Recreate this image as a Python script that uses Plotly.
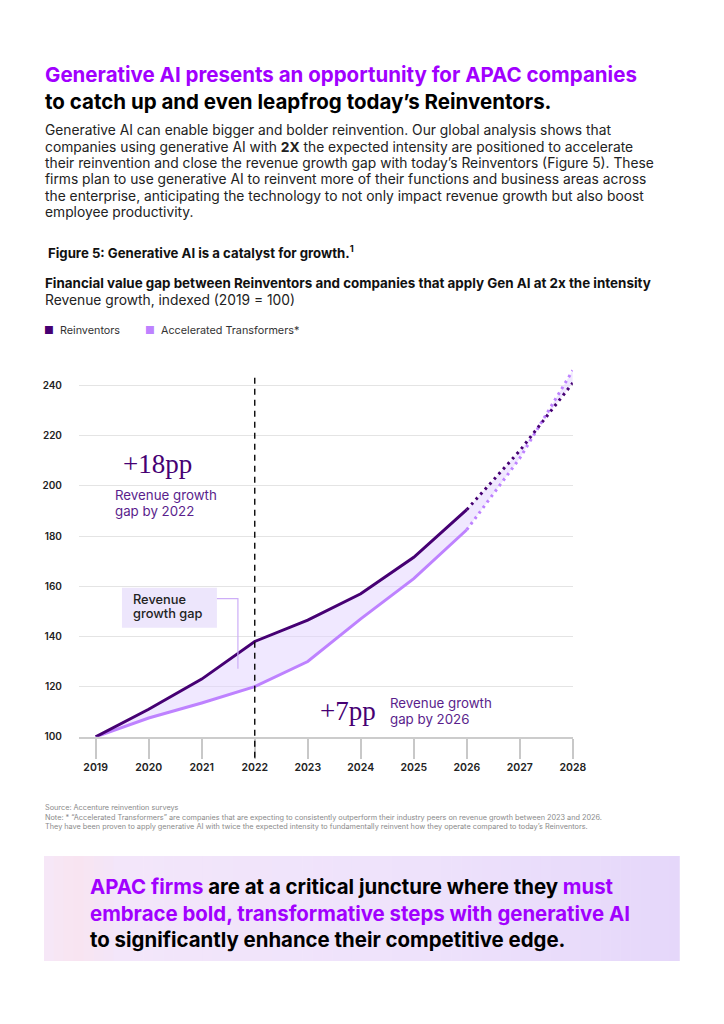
import plotly.graph_objects as go

W, H = 724, 1024

# ---------------- data ----------------
years_actual = [2019, 2020, 2021, 2022, 2023, 2024, 2025, 2026]
reinventors_actual = [100, 111, 123, 138, 146.5, 157, 171.5, 190.5]
transformers_actual = [100, 107.5, 113.5, 120, 130, 147, 163, 182.5]

years_proj = [2026, 2027, 2028]
reinventors_proj = [190.5, 214, 241]
transformers_proj = [182.5, 211, 246]

x_ticks = [2019, 2020, 2021, 2022, 2023, 2024, 2025, 2026, 2027, 2028]
y_ticks = [100, 120, 140, 160, 180, 200, 220, 240]
split_year = 2022

title_1 = "Generative AI presents an opportunity for APAC companies"
title_2 = "to catch up and even leapfrog today\u2019s Reinventors."
body_lines = [
    "Generative AI can enable bigger and bolder reinvention. Our global analysis shows that",
    "companies using generative AI with <b>2X</b> the expected intensity are positioned to accelerate",
    "their reinvention and close the revenue growth gap with today\u2019s Reinventors (Figure 5). These",
    "firms plan to use generative AI to reinvent more of their functions and business areas across",
    "the enterprise, anticipating the technology to not only impact revenue growth but also boost",
    "employee productivity.",
]
fig_title = "Figure 5: Generative AI is a catalyst for growth.<sup>1</sup>"
chart_title = "Financial value gap between Reinventors and companies that apply Gen AI at 2x the intensity"
chart_sub = "Revenue growth, indexed (2019 = 100)"
series_names = ["Reinventors", "Accelerated Transformers*"]
notes = [
    "Source: Accenture reinvention surveys",
    "Note: * \u201cAccelerated Transformers\u201d are companies that are expecting to consistently outperform their industry peers on revenue growth between 2023 and 2026.",
    "They have been proven to apply generative AI with twice the expected intensity to fundamentally reinvent how they operate compared to today\u2019s Reinventors.",
]
callout_lines = [
    "<span style='color:#A100FF'>APAC firms</span> are at a critical juncture where they <span style='color:#A100FF'>must</span>",
    "<span style='color:#A100FF'>embrace bold, transformative steps with generative AI</span>",
    "to significantly enhance their competitive edge.",
]

# ---------------- styles ----------------
DARK = "#460073"
LIGHT = "#BE82FF"
FILL = "rgba(226,210,255,0.5)"
PURPLE = "#A100FF"
FONT = "Inter"
SERIF = "Liberation Serif"

# the photographed page comes out slightly scaled; compensate positions
SX, SY = 0.981, 0.994


def px(x):
    return x / (W * SX)


def py(y):
    return 1 - y / (H * SY)


fig = go.Figure()

# fill between series
fig.add_trace(go.Scatter(x=years_actual + years_proj[1:], y=reinventors_actual + reinventors_proj[1:],
                         mode="lines", line=dict(width=0), showlegend=False, hoverinfo="skip"))
fig.add_trace(go.Scatter(x=years_actual + years_proj[1:], y=transformers_actual + transformers_proj[1:],
                         mode="lines", line=dict(width=0), fill="tonexty", fillcolor=FILL,
                         showlegend=False, hoverinfo="skip"))

# lines
fig.add_trace(go.Scatter(x=years_actual, y=transformers_actual, mode="lines",
                         line=dict(color=LIGHT, width=3), name=series_names[1], showlegend=False))
fig.add_trace(go.Scatter(x=years_actual, y=reinventors_actual, mode="lines",
                         line=dict(color=DARK, width=3), name=series_names[0], showlegend=False))
fig.add_trace(go.Scatter(x=years_proj, y=transformers_proj, mode="lines", cliponaxis=False,
                         line=dict(color=LIGHT, width=3, dash="2.6px,4.2px"), showlegend=False))
fig.add_trace(go.Scatter(x=years_proj, y=reinventors_proj, mode="lines", cliponaxis=False,
                         line=dict(color=DARK, width=3, dash="2.6px,4.2px"), showlegend=False))

# axes geometry (target pixel positions)
y_bottom_px, y_top_px = 736, 366
px_per_unit = (736 - 385) / 140
y_max = 100 + (y_bottom_px - y_top_px) / px_per_unit
x_left_px, x_right_px = 79, 573
px_per_year = (572.7 - 95.7) / 9
x_min = 2019 - (95.7 - x_left_px) / px_per_year

fig.update_layout(
    width=W, height=H, autosize=False,
    margin=dict(l=0, r=0, t=0, b=0),
    paper_bgcolor="white", plot_bgcolor="white",
    font=dict(family=FONT, color="#222"),
    xaxis=dict(domain=[px(x_left_px), px(x_right_px)], range=[x_min, 2028],
               tickvals=x_ticks, ticktext=[str(v) for v in x_ticks],
               showgrid=False, zeroline=False,
               showline=True, linecolor="#cccccc", linewidth=2,
               ticks="outside", ticklen=20, tickwidth=1.5, tickcolor="#c8c8c8",
               tickfont=dict(size=10.5, color="#222", family=FONT, weight=600)),
    yaxis=dict(domain=[py(y_bottom_px), py(y_top_px)], range=[100, y_max],
               tickvals=y_ticks, showgrid=True, gridcolor="#e4e4e4", gridwidth=1,
               zeroline=False, showline=False, ticks="", ticklabelstandoff=16,
               tickfont=dict(size=10, color="#222", family=FONT, weight=600)),
)

shapes = []
# bottom callout background: soft horizontal gradient made of thin stripes
stops = [(0.0, (246, 232, 248)), (0.05, (248, 228, 240)), (0.12, (243, 230, 250)),
         (0.6, (238, 226, 251)), (1.0, (229, 215, 250))]


def grad(t):
    for (t0, c0), (t1, c1) in zip(stops[:-1], stops[1:]):
        if t0 <= t <= t1:
            f = (t - t0) / (t1 - t0)
            return "rgb(%d,%d,%d)" % tuple(round(a + (b - a) * f) for a, b in zip(c0, c1))
    return "rgb(%d,%d,%d)" % stops[-1][1]


box_x0, box_x1, n_strip = 44, 680, 64
for i in range(n_strip):
    xa = box_x0 + (box_x1 - box_x0) * i / n_strip
    xb = box_x0 + (box_x1 - box_x0) * (i + 1) / n_strip + 0.6
    shapes.append(dict(type="rect", xref="paper", yref="paper", x0=px(xa), x1=px(min(xb, box_x1)),
                       y0=py(960), y1=py(855), fillcolor=grad((i + 0.5) / n_strip),
                       line=dict(width=0), layer="below"))
# dashed divider
shapes.append(dict(type="line", xref="x", yref="paper", x0=split_year, x1=split_year,
                   y0=py(757), y1=py(376), line=dict(color="#111", width=1.5, dash="6px,5px")))
# callout box for "Revenue growth gap"
shapes.append(dict(type="rect", xref="paper", yref="paper", x0=px(122), x1=px(217),
                   y0=py(627), y1=py(587), fillcolor="#EDE6FC", line=dict(width=0), layer="above"))
shapes.append(dict(type="path", xref="paper", yref="paper",
                   path=f"M {px(217)} {py(598)} L {px(238)} {py(598)} L {px(238)} {py(668)}",
                   line=dict(color="#CDAEF7", width=1.2), layer="above"))
fig.update_layout(shapes=shapes)

ann = []


def text(x, y, s, size, color="#222", family=FONT, weight=400, xanchor="left"):
    ann.append(dict(xref="paper", yref="paper", x=px(x), y=py(y), text=s, showarrow=False,
                    xanchor=xanchor, yanchor="middle", align="left",
                    font=dict(size=size, color=color, family=family, weight=weight)))


text(43, 74, title_1, 20.5, PURPLE, weight=700)
text(43, 101, title_2, 20.5, "#000", weight=700)
for i, line in enumerate(body_lines):
    text(43, 130 + i * 16.4, line, 13.8, "#222")
text(46, 252, fig_title, 13.2, "#111", weight=700)
text(43, 283, chart_title, 13.4, "#111", weight=700)
text(43, 300, chart_sub, 13.8, "#222")
text(42, 330, f"<span style='color:{DARK}'>\u25A0</span>  {series_names[0]}", 10.8, "#333")
text(143, 330, f"<span style='color:{LIGHT}'>\u25A0</span>  {series_names[1]}", 10.8, "#333")

# chart annotations
text(121, 463, "+18pp", 27, DARK, family=SERIF)
text(113, 494, "Revenue growth", 13.3, "#5A1E8C")
text(113, 510, "gap by 2022", 13.3, "#5A1E8C")
text(318, 710, "+7pp", 27, DARK, family=SERIF)
text(388, 702, "Revenue growth", 13.3, "#5A1E8C")
text(388, 718, "gap by 2026", 13.3, "#5A1E8C")
text(131, 599, "Revenue", 12.8, "#222", weight=500)
text(131, 613, "growth gap", 12.8, "#222", weight=500)

# footnotes
for i, n in enumerate(notes):
    text(43, 807 + i * 9.5, n, 7.3, "#8a8a8a")

# bottom callout
for i, line in enumerate(callout_lines):
    text(88, 886 + i * 26, line, 20.4, "#000", weight=700)

fig.update_layout(annotations=ann)
fig.write_html(
    "out.html",
    config={"displayModeBar": False, "responsive": False},
    post_script="document.body.style.margin='0px';document.body.style.overflow='hidden';",
)
